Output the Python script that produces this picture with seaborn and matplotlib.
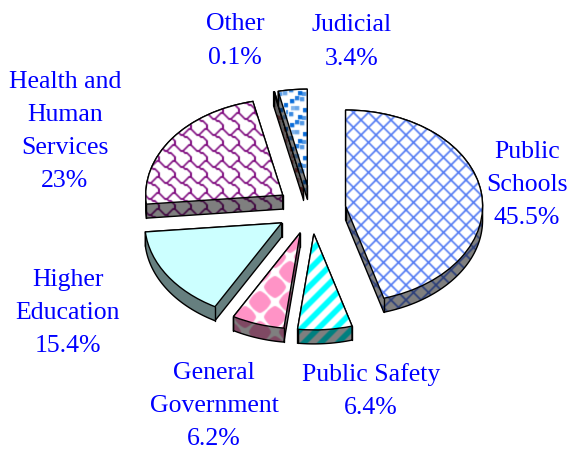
import numpy as np
import matplotlib
matplotlib.use("Agg")
import matplotlib.pyplot as plt
from matplotlib.patches import Polygon
import seaborn as sns

# ---- data -----------------------------------------------------------------
categories = ["Public\nSchools", "Public Safety", "General\nGovernment", "Higher\nEducation",
              "Health and\nHuman\nServices", "Other", "Judicial"]
shares = [45.5, 6.4, 6.2, 15.4, 23.0, 0.1, 3.4]
share_text = ["45.5%", "6.4%", "6.2%", "15.4%", "23%", "0.1%", "3.4%"]

# ---- layout (pixels of the 569x449 picture) --------------------------------
W, H = 569, 449
CX, CY = 311.0, 209.5      # pie centre
RX, RY = 137.0, 96.0       # pie radii
DEPTH = 14.0               # thickness
EXPLODE = 0.255
label_xy = [(527, 185), (371, 391), (214, 406), (68, 313), (65, 131.5), (235, 41), (352, 42)]
draw_order = [5, 6, 4, 3, 2, 1, 0]

# ---- fill patterns ---------------------------------------------------------
SS = 3
yy, xx = np.mgrid[0:H * SS, 0:W * SS]
xx = (xx + 0.5) / SS
yy = (yy + 0.5) / SS


def lattice():
    return (((xx + yy) % 15 < 2.3) | ((xx - yy) % 15 < 2.3)).astype(float)


def stripes():
    return ((xx + yy + 3) % 17 < 8).astype(float)


def diamonds():
    u = (xx + yy - 562 + 15) % 30 - 15
    v = (xx - yy + 12 + 15) % 30 - 15
    dx, dy = np.abs(u + v) / 2, np.abs(u - v) / 2
    return (dx ** 1.4 + dy ** 1.4 < 11.0 ** 1.4).astype(float)


def shingle():
    # one 8x8 repeat of the wavy roof-tile line, scaled to 16 px
    wave = [(0, 1), (1, 2), (2, 3), (3, 3), (4, 2), (5, 1), (6, 0), (7, 0), (8, 1)]
    stem = [(3, 3), (4, 4), (5, 4), (6, 5), (7, 6), (7, 7), (7, 8)]
    n = 48
    ty, tx = np.mgrid[0:n, 0:n]
    tx = (tx + 0.5) * 8 / n - 0.5
    ty = (ty + 0.5) * 8 / n - 0.5
    d = np.full((n, n), 1e9)
    for line in (wave, stem):
        for (x0, y0), (x1, y1) in zip(line[:-1], line[1:]):
            for ox in (-8, 0, 8):
                for oy in (-8, 0, 8):
                    dx, dy = x1 - x0, y1 - y0
                    t = np.clip(((tx - x0 - ox) * dx + (ty - y0 - oy) * dy) / (dx * dx + dy * dy), 0, 1)
                    d = np.minimum(d, np.hypot(tx - x0 - ox - t * dx, ty - y0 - oy - t * dy))
    tile = (d < 0.45).astype(float)
    return tile[(yy * 3).astype(int) % n, (xx * 3).astype(int) % n]


def confetti():
    m = np.zeros_like(xx)
    tx, ty = xx % 24, yy % 24
    for x0, y0, a in [(2, 3, 1), (12, 1, .7), (20, 7, 1), (7, 10, .6), (15, 12, 1),
                      (1, 16, .8), (10, 19, 1), (19, 19, .6), (7, 0, .9), (22, 14, .8),
                      (14, 20, .7), (3, 10, .5)]:
        m = np.maximum(m, a * ((tx >= x0) & (tx < x0 + 4.2) & (ty >= y0) & (ty < y0 + 4.2)))
    return m


def solid():
    return np.zeros_like(xx)


fills = [
    (lattice, (0.30, 0.46, 0.95), (1, 1, 1)),
    (stripes, (0, 1, 1), (1, 1, 1)),
    (diamonds, (1, 0.58, 0.78), (1, 1, 1)),
    (solid, (0, 0, 0), (0.80, 1, 1)),
    (shingle, (0.50, 0.05, 0.50), (1, 1, 1)),
    (confetti, (0.55, 0.15, 0.15), (0.75, 0.75, 0.75)),
    (confetti, (0.03, 0.42, 0.85), (1, 1, 1)),
]


def make_image(fn, fg, bg):
    m = fn()
    m = m.reshape(H, SS, W, SS).mean(axis=(1, 3))
    m = (m + np.roll(m, 1, 0) + np.roll(m, 1, 1) + np.roll(m, -1, 0) + np.roll(m, -1, 1)) / 5 * 0.6 + m * 0.4
    m = m[..., None]
    return np.array(bg) * (1 - m) + np.array(fg) * m


def hull(points):
    pts = sorted(set(map(tuple, np.round(points, 7))))
    def half(seq):
        out = []
        for p in seq:
            while len(out) > 1 and ((out[-1][0] - out[-2][0]) * (p[1] - out[-2][1]) -
                                    (out[-1][1] - out[-2][1]) * (p[0] - out[-2][0])) <= 1e-9:
                out.pop()
            out.append(p)
        return out[:-1]
    return np.array(half(pts) + half(pts[::-1]))


# ---- figure ----------------------------------------------------------------
sns.set_theme(style="white")
plt.rcParams["font.family"] = ["Liberation Serif", "DejaVu Serif"]
fig = plt.figure(figsize=(W / 100, H / 100), dpi=100)
ax = fig.add_axes([0, 0, 1, 1])

wedges, _ = ax.pie(shares, explode=[EXPLODE] * len(shares), startangle=90, counterclock=False,
                   radius=1, wedgeprops=dict(edgecolor="black", linewidth=1.0, facecolor="none"))
ax.set_aspect("auto")
limits = dict(xlim=(-CX / RX, (W - CX) / RX), ylim=((CY - H) / RY, CY / RY))
extent = (*limits["xlim"], *limits["ylim"])
dz = DEPTH / RY

z = 1
for i in draw_order:
    w = wedges[i]
    cx, cy = w.center
    th = np.radians(np.linspace(w.theta1, w.theta2, 120))
    arc = np.c_[cx + w.r * np.cos(th), cy + w.r * np.sin(th)]
    outline = np.vstack([[cx, cy], arc])
    shifted = outline - [0, dz]
    side_pts = hull(np.vstack([outline, shifted]))
    img = make_image(*fills[i])

    side = Polygon(side_pts, closed=True, facecolor=(0.5, 0.5, 0.5), edgecolor="none", zorder=z)
    ax.add_patch(side)
    im = ax.imshow(img * 0.5, extent=extent, origin="upper", aspect="auto",
                   interpolation="nearest", zorder=z + 0.1)
    im.set_clip_path(side)
    ax.add_patch(Polygon(side_pts, closed=True, facecolor="none", edgecolor="black",
                         linewidth=1.0, zorder=z + 0.2))
    for k in (0, 1, len(outline) - 1):
        p, q = outline[k], shifted[k]
        if np.min(np.hypot(*(side_pts - q).T)) < 1e-5:
            ax.plot([p[0], q[0]], [p[1], q[1]], color="black", lw=1.0, zorder=z + 0.3)

    w.set_zorder(z + 0.6)
    top_fill = Polygon(outline, closed=True, facecolor="white", edgecolor="none", zorder=z + 0.4)
    ax.add_patch(top_fill)
    im2 = ax.imshow(img, extent=extent, origin="upper", aspect="auto",
                    interpolation="nearest", zorder=z + 0.5)
    im2.set_clip_path(top_fill)
    z += 1

ax.set(**limits)
ax.set_axis_off()

for name, pct, (px, py) in zip(categories, share_text, label_xy):
    fig.text(px / W, 1 - py / H, f"{name}\n{pct}", color="#0000ff", fontsize=18.5,
             ha="center", va="center", linespacing=1.65, multialignment="center")

fig.savefig("out.png", dpi=100, facecolor="white")
